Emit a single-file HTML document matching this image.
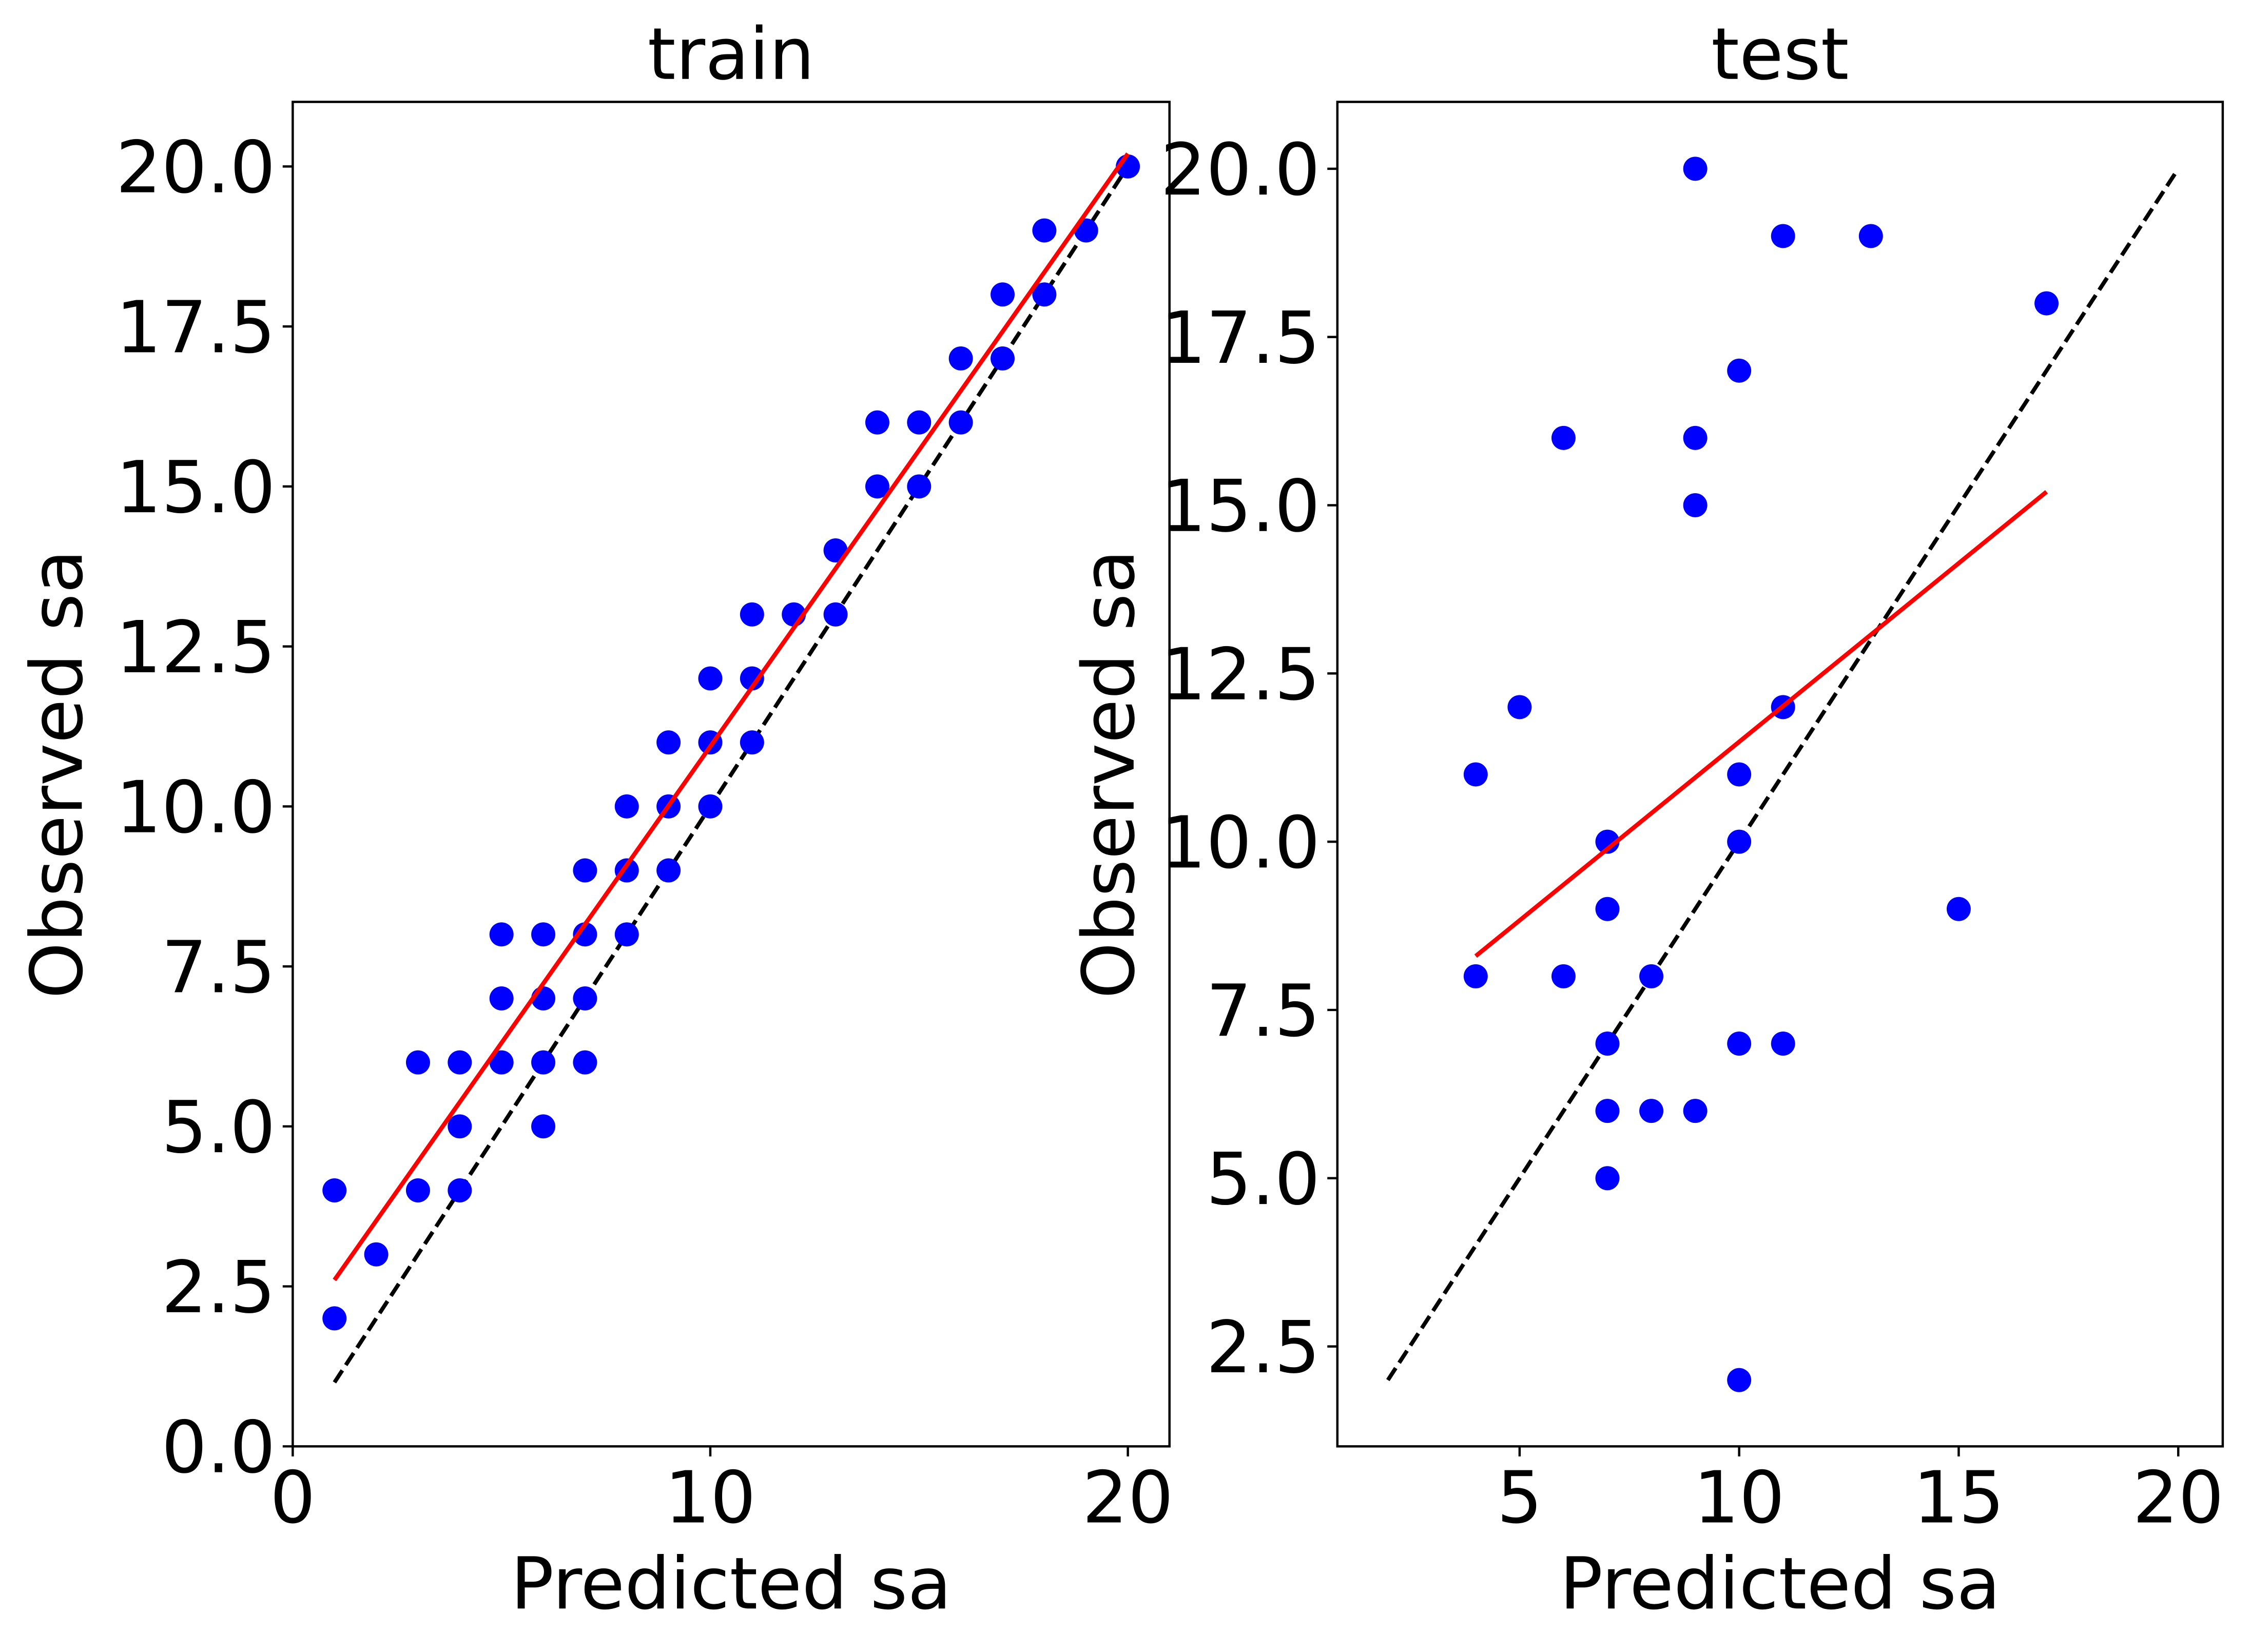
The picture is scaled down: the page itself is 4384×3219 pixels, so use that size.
<!DOCTYPE html>
<html><head><meta charset="utf-8"><style>html,body{margin:0;padding:0;background:#fff}svg{display:block}</style></head>
<body>
<svg id="fig" width="4384" height="3219" viewBox="0 0 1568 1151.3" xmlns="http://www.w3.org/2000/svg" font-family="'DejaVu Sans','Liberation Sans',sans-serif">
<rect width="1568" height="1152" fill="#fff"/>
<g id="left"></g>
<g id="right"></g>
</svg>
<script>
const trainX=[1,1,2,3,3,4,4,4,5,5,5,6,6,6,6,7,7,7,7,8,8,8,9,9,9,10,10,10,11,11,11,12,13,13,14,14,15,15,16,16,17,17,18,18,19,20];
const trainY=[4,2,3,6,4,6,5,4,8,7,6,8,7,6,5,9,8,7,6,10,9,8,11,10,9,12,11,10,13,12,11,13,14,13,16,15,16,15,17,16,18,17,19,18,19,20];
const trainFitX=[1,20];
const trainFitY=[2.6,20.2];
const trainIdX=[1,20];
const trainIdY=[1,20];
const trainXTicks=[0,10,20];
const trainYTicks=[0,2.5,5,7.5,10,12.5,15,17.5,20];
const testX=[9,11,13,17,10,6,9,9,5,11,4,10,7,10,7,15,4,6,8,7,10,11,7,8,9,7,10];
const testY=[20,19,19,18,17,16,16,15,12,12,11,11,10,10,9,9,8,8,8,7,7,7,6,6,6,5,2];
const testFitX=[4,17];
const testFitY=[8.3,15.2];
const testIdX=[2,20];
const testIdY=[2,20];
const testXTicks=[5,10,15,20];
const testYTicks=[2.5,5,7.5,10,12.5,15,17.5,20];

const NS="http://www.w3.org/2000/svg";
function mk(parent,tag,attrs,text){const e=document.createElementNS(NS,tag);for(const k in attrs)e.setAttribute(k,attrs[k]);if(text!==undefined)e.textContent=text;parent.appendChild(e);return e;}
function fmt(v,dec){return dec?v.toFixed(1):String(v);}

function panel(g,o){
  const L=o.box[0],T=o.box[1],R=o.box[2],B=o.box[3];
  const sx=v=>o.x0p+(v-o.x0)*o.xs, sy=v=>o.y0p-(v-o.y0)*o.ys;
  const d=mk(g,'line',{x1:sx(o.idX[0]),y1:sy(o.idY[0]),x2:sx(o.idX[1]),y2:sy(o.idY[1]),stroke:'#000','stroke-width':2.8,'stroke-dasharray':'10,4.4'});
  
  
  for(let i=0;i<o.px.length;i++){
    const c=mk(g,'circle',{cx:sx(o.px[i]),cy:sy(o.py[i]),r:8.4,fill:'#0000ff'});
    
    
  }
  const f=mk(g,'line',{x1:sx(o.fx[0]),y1:sy(o.fy[0]),x2:sx(o.fx[1]),y2:sy(o.fy[1]),stroke:'#ff0000','stroke-width':3});
  
  
  const fr=mk(g,'rect',{x:L,y:T,width:R-L,height:B-T,fill:'none',stroke:'#000','stroke-width':1.6});
  
  
  o.xt.forEach(v=>{
    const x=sx(v);
    const t=mk(g,'line',{x1:x,y1:B,x2:x,y2:B+7,stroke:'#000','stroke-width':1.6});
    
    
    const l=mk(g,'text',{x:x,y:B+53,'text-anchor':'middle','font-size':50},fmt(v,false));
    
    
  });
  o.yt.forEach(v=>{
    const y=sy(v);
    const t=mk(g,'line',{x1:L-7,y1:y,x2:L,y2:y,stroke:'#000','stroke-width':1.6});
    
    
    const l=mk(g,'text',{x:L-12,y:y+18,'text-anchor':'end','font-size':50},fmt(v,true));
    
    
  });
  const ti=mk(g,'text',{x:(L+R)/2,y:T-16,'text-anchor':'middle','font-size':50},o.title);
  
  
  const xl=mk(g,'text',{x:(L+R)/2,y:1121,'text-anchor':'middle','font-size':50},'Predicted sa');
  
  
  const yx=o.ylx, yy=(T+B)/2;
  const yl=mk(g,'text',{x:yx,y:yy,'text-anchor':'middle','font-size':50,transform:`rotate(-90 ${yx} ${yy})`},'Observed sa');
  
  
}
panel(document.getElementById('left'),{box:[204,71,815,1008],x0:0,x0p:204,xs:29.1,y0:0,y0p:1008,ys:44.6,
  px:trainX,py:trainY,fx:trainFitX,fy:trainFitY,idX:trainIdX,idY:trainIdY,xt:trainXTicks,yt:trainYTicks,title:'train',ylx:57});
panel(document.getElementById('right'),{box:[932,71,1549,1008],x0:5,x0p:1059,xs:30.6,y0:20,y0p:117.6,ys:46.9,
  px:testX,py:testY,fx:testFitX,fy:testFitY,idX:testIdX,idY:testIdY,xt:testXTicks,yt:testYTicks,title:'test',ylx:790});
</script>
</body></html>
